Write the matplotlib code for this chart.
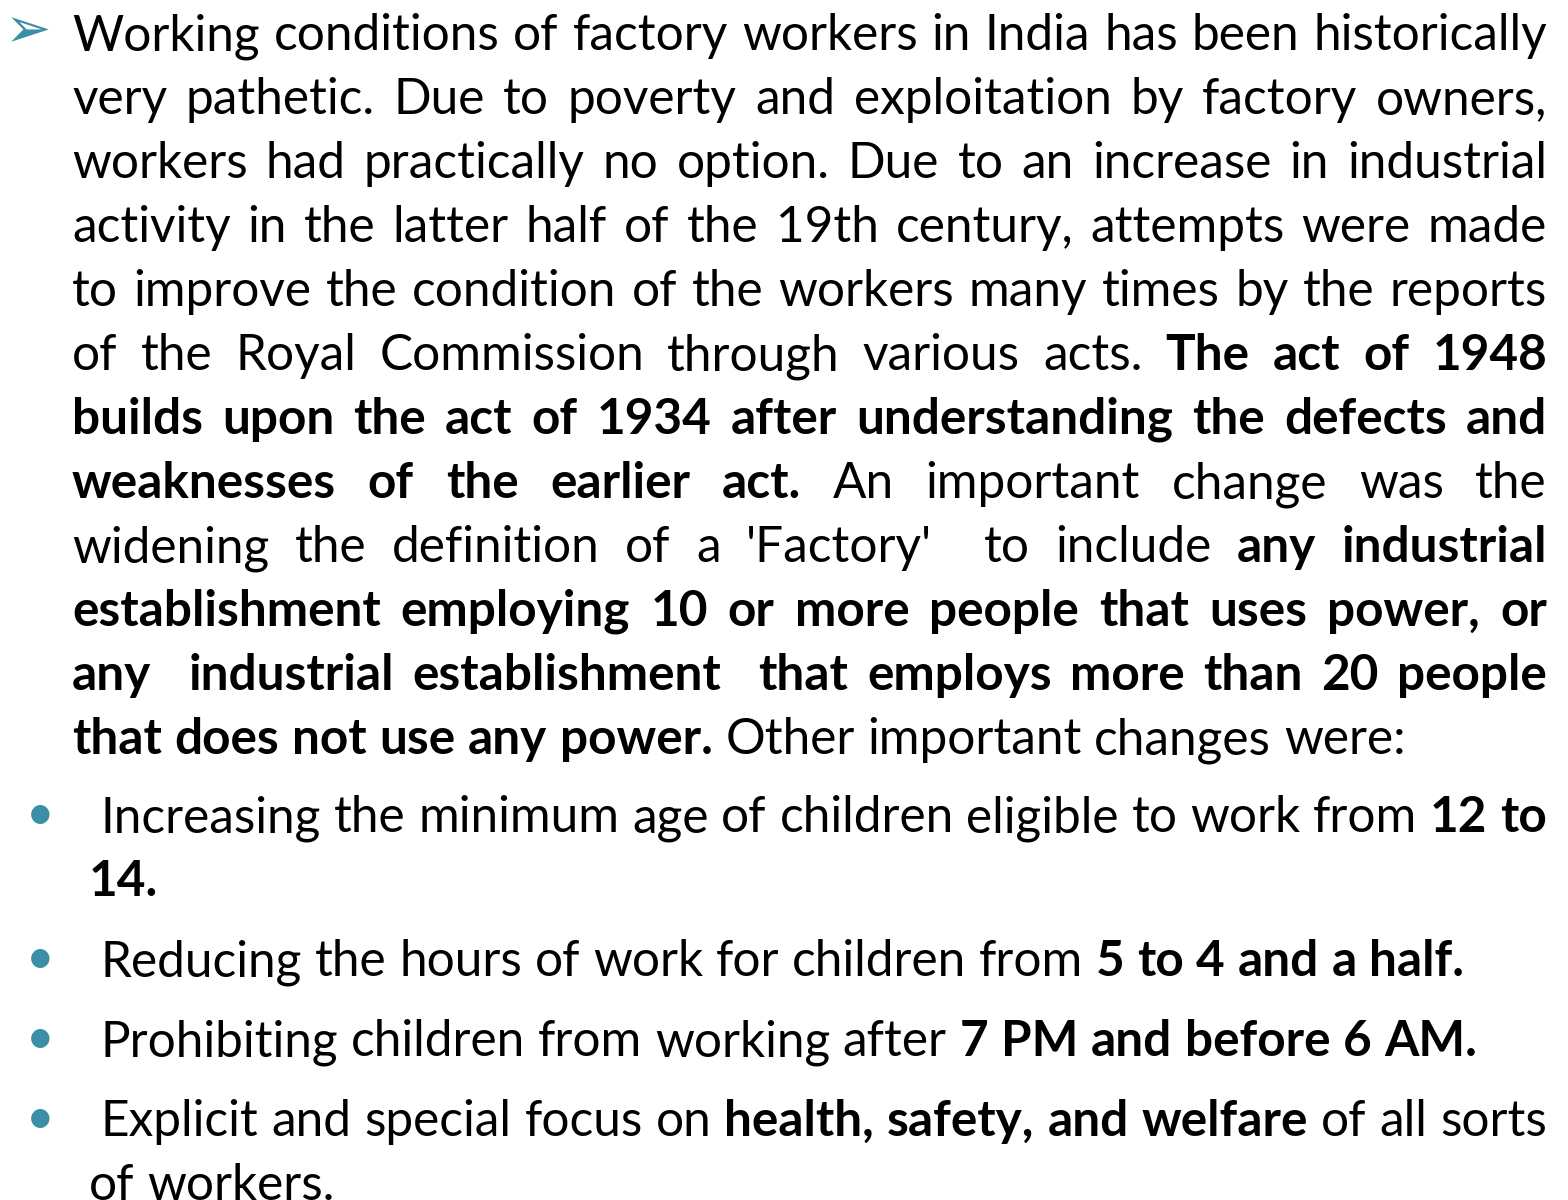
import matplotlib
matplotlib.use('Agg')
import matplotlib.pyplot as plt

FONT = 'Lato'
TEAL = '#3a8fa6'

# paragraph lines: list of (text, bold) segments; True = justify
para_lines = [
    ([("Working conditions of factory workers in India has been historically", False)], True),
    ([("very pathetic. Due to poverty and exploitation by factory owners,", False)], True),
    ([("workers had practically no option. Due to an increase in industrial", False)], True),
    ([("activity in the latter half of the 19th century, attempts were made", False)], True),
    ([("to improve the condition of the workers many times by the reports", False)], True),
    ([("of the Royal Commission through various acts. ", False), ("The act of 1948", True)], True),
    ([("builds upon the act of 1934 after understanding the defects and", True)], True),
    ([("weaknesses of the earlier act.", True), (" An important change was the", False)], True),
    ([("widening the definition of a 'Factory'  to include ", False), ("any industrial", True)], True),
    ([("establishment employing 10 or more people that uses power, or", True)], True),
    ([("any  industrial establishment  that employs more than 20 people", True)], True),
    ([("that does not use any power.", True), (" Other important changes were:", False)], False),
]

bullet_items = [
    [([("Increasing the minimum age of children eligible to work from ", False), ("12 to", True)], True),
     ([("14.", True)], False)],
    [([("Reducing the hours of work for children from ", False), ("5 to 4 and a half.", True)], False)],
    [([("Prohibiting children from working after ", False), ("7 PM and before 6 AM.", True)], False)],
    [([("Explicit and special focus on ", False), ("health, safety, and welfare", True), (" of all sorts", False)], True),
     ([("of workers.", False)], False)],
]

fig = plt.figure(figsize=(15.68, 12), dpi=100)
ax = fig.add_axes([0, 0, 1, 1])
ax.set_xlim(0, 1568)
ax.set_ylim(1200, 0)
ax.axis('off')
renderer = fig.canvas.get_renderer()


def width(s, fs, bold):
    t = ax.text(0, 0, s, fontsize=fs, family=FONT, fontweight='bold' if bold else 'normal')
    w = t.get_window_extent(renderer).width
    t.remove()
    return w


def tokens(segs):
    # words with bold flag and gap count before each word
    out = []
    gaps = 0
    for text, bold in segs:
        cur = ''
        for ch in text:
            if ch == ' ':
                if cur:
                    out.append([cur, bold, gaps])
                    cur, gaps = '', 0
                gaps += 1
            else:
                cur += ch
        if cur:
            out.append([cur, bold, gaps])
            gaps = 0
    out[0][2] = 0
    return out


def natural(segs, fs):
    tk = tokens(segs)
    sp = width('x x', fs, False) - width('xx', fs, False)
    return sum(width(w, fs, b) for w, b, g in tk) + sum(g for _, _, g in tk) * sp


# pick a font size so the last (unjustified) paragraph line is as wide as in the slide
fs = 36.0
fs = fs * 1333 / natural(para_lines[-1][0], fs)


def draw_line(segs, x0, x1, y, justify):
    tk = tokens(segs)
    ws = [width(w, fs, b) for w, b, g in tk]
    ngap = sum(g for _, _, g in tk)
    sp = width('x x', fs, False) - width('xx', fs, False)
    if justify and ngap:
        sp = (x1 - x0 - sum(ws)) / ngap
    x = x0
    for (w, b, g), wd in zip(tk, ws):
        x += g * sp
        ax.text(x, y, w, fontsize=fs, family=FONT, fontweight='bold' if b else 'normal',
                va='baseline', ha='left', color='black')
        x += wd


LEFT, RIGHT = 72, 1547
y = 50
ax.text(28, 32, '\u27a2', fontsize=40, family='DejaVu Sans', color=TEAL, va='center', ha='center')
for segs, just in para_lines:
    draw_line(segs, LEFT, RIGHT, y, just)
    y += 64

y = 832
for item in bullet_items:
    ax.text(40, y - 2, '\u2022', fontsize=fs, family=FONT, color=TEAL, va='baseline', ha='center')
    for i, (segs, just) in enumerate(item):
        draw_line(segs, 101 if i == 0 else 89, RIGHT, y, just)
        y += 64
    y += 16

fig.savefig('out.png', dpi=100, facecolor='white')
